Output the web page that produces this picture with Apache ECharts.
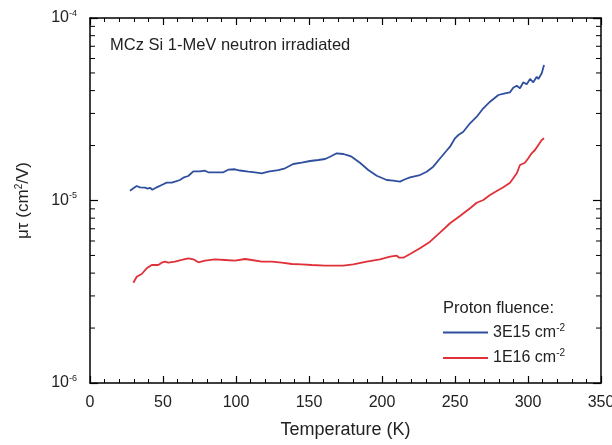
<!DOCTYPE html>
<html><head><meta charset="utf-8">
<script src="https://cdn.jsdelivr.net/npm/echarts@6/dist/echarts.min.js"></script>
<style>html,body{margin:0;padding:0;background:#fff}#c{width:612px;height:445px}</style>
</head><body><div id="c"></div>
<script>
var blueT = [27.4,29.7,32.0,34.2,37.7,39.5,41.1,42.7,45.7,49.1,52.5,56.0,58.2,61.6,63.9,67.3,68.5,70.8,75.3,78.8,81.0,85.6,91.3,94.7,99.3,102.7,108.4,113.0,117.6,122.1,129.0,133.6,139.2,145.0,150.7,156.4,161.0,164.4,169.0,173.5,176.7,179.2,184.9,190.6,196.4,203.2,207.7,212.3,215.8,219.2,226.0,230.6,235.1,239.7,244.3,246.6,250.0,252.3,255.7,260.3,264.9,269.4,274.0,279.7,284.2,287.7,289.9,292.3,294.5,296.8,299.1,301.4,303.6,306.0,307.1,309.4,311.0];
var blueV = [1.131e-5,1.166e-5,1.201e-5,1.181e-5,1.175e-5,1.161e-5,1.175e-5,1.146e-5,1.181e-5,1.216e-5,1.252e-5,1.252e-5,1.268e-5,1.295e-5,1.333e-5,1.362e-5,1.392e-5,1.445e-5,1.445e-5,1.456e-5,1.427e-5,1.427e-5,1.427e-5,1.475e-5,1.483e-5,1.460e-5,1.438e-5,1.427e-5,1.409e-5,1.438e-5,1.469e-5,1.501e-5,1.585e-5,1.611e-5,1.646e-5,1.667e-5,1.688e-5,1.738e-5,1.814e-5,1.798e-5,1.765e-5,1.738e-5,1.611e-5,1.469e-5,1.367e-5,1.295e-5,1.284e-5,1.268e-5,1.307e-5,1.340e-5,1.379e-5,1.438e-5,1.532e-5,1.699e-5,1.879e-5,1.972e-5,2.192e-5,2.285e-5,2.382e-5,2.649e-5,2.879e-5,3.200e-5,3.478e-5,3.785e-5,3.867e-5,3.917e-5,4.151e-5,4.256e-5,4.120e-5,4.443e-5,4.332e-5,4.633e-5,4.443e-5,4.768e-5,4.633e-5,4.977e-5,5.527e-5];
var redT = [29.7,32.0,35.4,38.8,42.3,46.8,49.1,51.4,53.6,58.2,62.8,67.3,70.8,74.2,78.8,85.6,92.5,99.3,106.2,110.8,117.6,124.5,131.3,138.2,145.0,151.9,161.0,173.5,180.3,189.5,198.6,205.5,210.1,211.8,214.6,219.2,226.0,232.9,239.7,246.6,253.4,260.3,264.9,269.4,274.0,278.6,283.1,287.7,289.9,292.3,294.5,297.9,300.2,302.5,304.8,307.1,309.4,311.0];
var redV = [3.544e-6,3.823e-6,3.956e-6,4.251e-6,4.432e-6,4.432e-6,4.562e-6,4.620e-6,4.562e-6,4.620e-6,4.721e-6,4.823e-6,4.762e-6,4.585e-6,4.679e-6,4.762e-6,4.721e-6,4.679e-6,4.781e-6,4.721e-6,4.620e-6,4.620e-6,4.562e-6,4.488e-6,4.471e-6,4.432e-6,4.393e-6,4.393e-6,4.471e-6,4.620e-6,4.762e-6,4.922e-6,4.983e-6,4.860e-6,4.860e-6,5.091e-6,5.472e-6,5.946e-6,6.662e-6,7.502e-6,8.226e-6,9.065e-6,9.725e-6,1.006e-5,1.072e-5,1.127e-5,1.181e-5,1.252e-5,1.323e-5,1.409e-5,1.565e-5,1.611e-5,1.703e-5,1.814e-5,1.891e-5,2.014e-5,2.145e-5,2.192e-5];
var seriesNames = ['3E15 cm{sup|-2}', '1E16 cm{sup|-2}'];
var titleText = 'MCz Si 1-MeV neutron irradiated';
var legendTitle = 'Proton fluence:';
var xName = 'Temperature (K)';
var yName = 'μτ (cm{sup|2}/V)';
var yMinorValues = [2e-6,3e-6,4e-6,5e-6,6e-6,7e-6,8e-6,9e-6,2e-5,3e-5,4e-5,5e-5,6e-5,7e-5,8e-5,9e-5];

function zip(a, b) { return a.map(function (v, i) { return [v, b[i]]; }); }
var FONT = 'Liberation Sans';
var chart = echarts.init(document.getElementById('c'), null, {renderer: 'canvas'});
var axisLine = {show: true, onZero: false, lineStyle: {color: '#000', width: 1.5}};
function sup(fs) { return {sup: {fontSize: fs || 10, verticalAlign: 'top', padding: [0,0,9,0], fontFamily: FONT, color: '#222'}}; }
var option = {
  backgroundColor: '#fff',
  animation: false,
  grid: {left: 90, right: 11, top: 18, bottom: 62, outerBoundsMode: 'none', containLabel: false},
  title: [
    {text: titleText, left: 110, top: 37, padding: 0, textStyle: {fontFamily: FONT, fontSize: 16.5, fontWeight: 'normal', color: '#222'}},
    {text: legendTitle, left: 443, top: 300, padding: 0, textStyle: {fontFamily: FONT, fontSize: 16.5, fontWeight: 'normal', color: '#222'}}
  ],
  legend: {
    orient: 'vertical', left: 443, top: 323, itemGap: 8, padding: 0,
    itemWidth: 45, itemHeight: 2, icon: 'rect',
    textStyle: {fontFamily: FONT, fontSize: 16, color: '#222', rich: sup(10)},
    data: seriesNames
  },
  xAxis: [
    {type: 'value', min: 0, max: 350, interval: 50, position: 'bottom',
     name: xName, nameLocation: 'middle', nameGap: 38,
     nameTextStyle: {fontFamily: FONT, fontSize: 18, color: '#222'},
     axisLine: axisLine,
     axisTick: {inside: true, length: 7, lineStyle: {color: '#000', width: 1.2}},
     minorTick: {show: true, splitNumber: 5, length: 4, lineStyle: {color: '#000', width: 1}},
     axisLabel: {fontFamily: FONT, fontSize: 16, color: '#222', margin: 12},
     splitLine: {show: false}},
    {type: 'value', min: 0, max: 350, interval: 50, position: 'top',
     axisLine: axisLine,
     axisTick: {inside: true, length: 7, lineStyle: {color: '#000', width: 1.2}},
     minorTick: {show: true, splitNumber: 5, length: 4, lineStyle: {color: '#000', width: 1}},
     axisLabel: {show: false}, splitLine: {show: false}}
  ],
  yAxis: [
    {type: 'log', logBase: 10, min: 1e-6, max: 1e-4, position: 'left',
     name: yName, nameLocation: 'middle', nameGap: 57, nameRotate: 90,
     nameTextStyle: {fontFamily: FONT, fontSize: 17, color: '#222', rich: sup(10)},
     axisLine: axisLine,
     axisTick: {inside: true, length: 8, lineStyle: {color: '#000', width: 1.2}},
     axisLabel: {fontFamily: FONT, fontSize: 16, color: '#222', margin: 13,
       formatter: function (v) { return '10{sup|' + Math.round(Math.log10(v)) + '}'; },
       rich: sup(9)},
     splitLine: {show: false}},
    {type: 'log', logBase: 10, min: 1e-6, max: 1e-4, position: 'right',
     axisLine: axisLine,
     axisTick: {inside: true, length: 8, lineStyle: {color: '#000', width: 1.2}},
     axisLabel: {show: false}, splitLine: {show: false}}
  ],
  series: [
    {name: seriesNames[0], type: 'line', data: zip(blueT, blueV), showSymbol: false, symbol: 'none',
     lineStyle: {color: '#2f4f9e', width: 1.8}, itemStyle: {color: '#2f4f9e'}},
    {name: seriesNames[1], type: 'line', data: zip(redT, redV), showSymbol: false, symbol: 'none',
     lineStyle: {color: '#e03038', width: 1.8}, itemStyle: {color: '#e03038'}}
  ]
};
chart.setOption(option);

// minor log ticks on left and right axes, positioned via the axis scale
var xl = chart.convertToPixel({xAxisIndex: 0}, 0);
var xr = chart.convertToPixel({xAxisIndex: 0}, 350);
var g = [];
yMinorValues.forEach(function (v) {
  var y = chart.convertToPixel({yAxisIndex: 0}, v);
  g.push({type: 'line', shape: {x1: xl, y1: y, x2: xl + 5, y2: y}, style: {stroke: '#000', lineWidth: 1}});
  g.push({type: 'line', shape: {x1: xr, y1: y, x2: xr - 5, y2: y}, style: {stroke: '#000', lineWidth: 1}});
});
chart.setOption({graphic: g});
</script></body></html>
